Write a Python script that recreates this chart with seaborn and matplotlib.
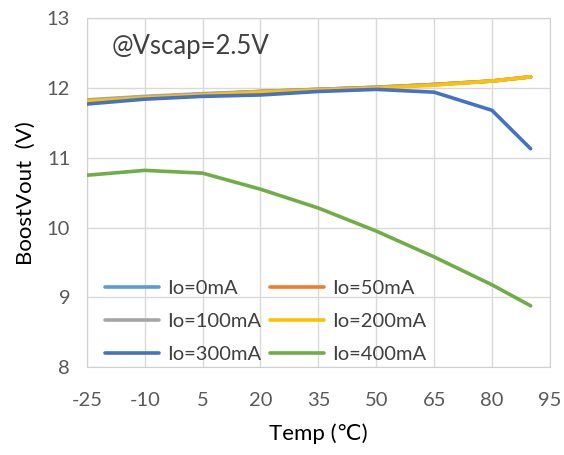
import pandas as pd
import matplotlib.pyplot as plt
import seaborn as sns

temps = [-25, -10, 5, 20, 35, 50, 65, 80, 90]
io_0 = [11.82, 11.87, 11.91, 11.95, 11.98, 12.01, 12.05, 12.10, 12.16]
io_50 = [11.82, 11.87, 11.91, 11.95, 11.98, 12.01, 12.05, 12.10, 12.16]
io_100 = [11.83, 11.88, 11.92, 11.95, 11.98, 12.01, 12.05, 12.10, 12.16]
io_200 = [11.81, 11.86, 11.90, 11.94, 11.97, 12.00, 12.04, 12.10, 12.16]
io_300 = [11.77, 11.84, 11.88, 11.90, 11.95, 11.98, 11.94, 11.68, 11.13]
io_400 = [10.75, 10.82, 10.78, 10.55, 10.28, 9.95, 9.58, 9.18, 8.88]

labels = ['Io=0mA', 'Io=50mA', 'Io=100mA', 'Io=200mA', 'Io=300mA', 'Io=400mA']
colors = ['#5B9BD5', '#ED7D31', '#A5A5A5', '#FFC000', '#4472C4', '#70AD47']

series = [io_0, io_50, io_100, io_200, io_300, io_400]
df = pd.concat([pd.DataFrame({'Temp': temps, 'Vout': s, 'Io': lab})
                for s, lab in zip(series, labels)])

sns.set_style('white')
plt.rcParams['font.family'] = ['Lato', 'DejaVu Sans']
plt.rcParams['axes.unicode_minus'] = False

fig = plt.figure(figsize=(5.64, 4.55), dpi=100)
ax = fig.add_axes([0.154, 0.193, 0.821, 0.767])

sns.lineplot(data=df, x='Temp', y='Vout', hue='Io', hue_order=labels,
             palette=colors, linewidth=2.6, ax=ax, zorder=3)

ax.set_xlim(-25, 95)
ax.set_ylim(8, 13)
ax.set_xticks(range(-25, 96, 15))
ax.set_yticks(range(8, 14))
ax.grid(True, color='#D9D9D9', linewidth=1)
ax.set_axisbelow(True)
for sp in ax.spines.values():
    sp.set_color('#D0D0D0')
ax.tick_params(axis='both', colors='#595959', labelsize=14.5, length=0)
ax.tick_params(axis='x', pad=18)
ax.tick_params(axis='y', pad=12)

ax.set_xlabel('Temp (℃)', fontsize=16, color='black', labelpad=10)
ax.set_ylabel('BoostVout  (V)', fontsize=16, color='black', labelpad=8)

ax.text(-18.6, 12.6, '@Vscap=2.5V', fontsize=18.5, color='#404040', va='center')

# legend fills row-wise like the original: 0/50, 100/200, 300/400
handles, _ = ax.get_legend_handles_labels()
order = [0, 2, 4, 1, 3, 5]
leg = ax.legend([handles[i] for i in order], [labels[i] for i in order],
                ncol=2, loc='lower left', bbox_to_anchor=(0.0, -0.04),
                frameon=False, fontsize=14.5, handlelength=2.7, columnspacing=0.4,
                handletextpad=0.4, labelspacing=0.78, borderaxespad=0.5)
for t in leg.get_texts():
    t.set_color('#404040')

fig.savefig('out.png', dpi=100)
